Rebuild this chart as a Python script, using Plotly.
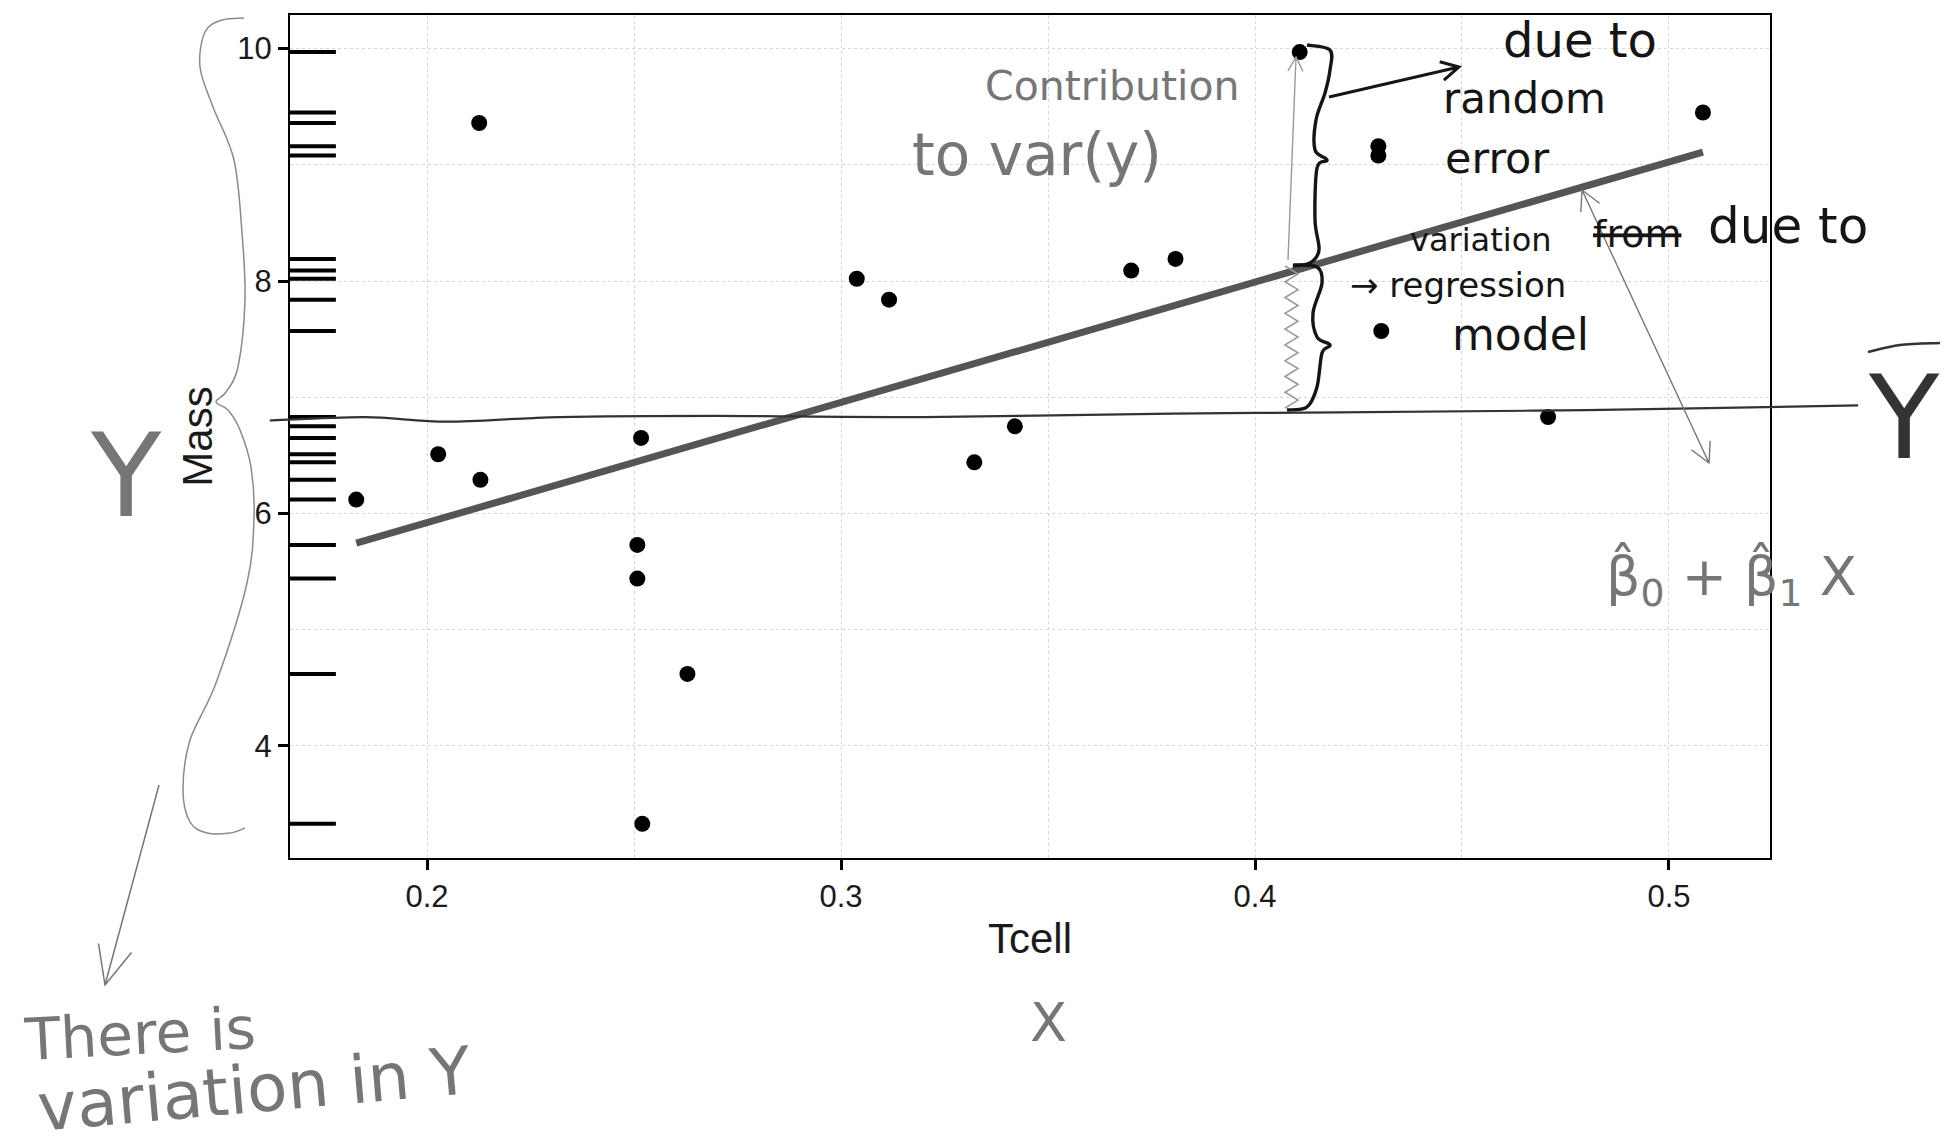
import math
import plotly.graph_objects as go

# ---------------- data ----------------
tcell = [0.1829, 0.2027, 0.2126, 0.2129, 0.2517, 0.2508, 0.2508, 0.2629, 0.2520,
         0.3038, 0.3116, 0.3322, 0.3420, 0.3701, 0.3808, 0.4108, 0.4298, 0.4298,
         0.4305, 0.4708, 0.5082]
mass = [6.12, 6.51, 9.36, 6.29, 6.65, 5.73, 5.44, 4.62, 3.33,
        8.02, 7.84, 6.44, 6.75, 8.09, 8.19, 9.97, 9.16, 9.08,
        7.57, 6.83, 9.45]

# fitted regression line (as drawn)
fit_tcell = [0.1829, 0.5082]
fit_mass = [5.745, 9.11]

# hand-drawn mean line (Y-bar)
ybar_tcell = [0.162, 0.185, 0.205, 0.232, 0.27, 0.32, 0.38, 0.42, 0.48, 0.5457]
ybar_mass = [6.80, 6.83, 6.79, 6.83, 6.84, 6.83, 6.86, 6.87, 6.89, 6.93]

x_ticks = [0.2, 0.3, 0.4, 0.5]
x_ticktext = ["0.2", "0.3", "0.4", "0.5"]
y_ticks = [4, 6, 8, 10]
y_ticktext = ["4", "6", "8", "10"]
x_minor = [0.25, 0.35, 0.45]
y_minor = [5, 7, 9]
x_range = [0.1669, 0.5244]
y_range = [3.036, 10.289]

# ---------------- geometry helpers ----------------
OFF = 8                       # page body margin
W, H = 1953 - OFF, 1147 - OFF
PL, PT, PW, PH = 290, 15, 1480, 843      # plot area on screen (px)
ML, MT = PL - OFF, PT - OFF
MR, MB = W - ML - PW, H - MT - PH

PEN = "#151515"
PENCIL = "#767676"
HAND_FONT = "DejaVu Sans"
AX_FONT = "Liberation Sans"
GRID = "#d6d6d6"


def px(xp, yp):
    """screen pixel -> paper coordinates"""
    return ((xp - PL) / PW, 1 - (yp - PT) / PH)


def d2p(x, y):
    return ((x - x_range[0]) / (x_range[1] - x_range[0]),
            (y - y_range[0]) / (y_range[1] - y_range[0]))


def smooth(pts):
    d = "M{:.5f},{:.5f}".format(*pts[0])
    for i in range(len(pts) - 1):
        p0 = pts[i - 1] if i > 0 else pts[i]
        p1, p2 = pts[i], pts[i + 1]
        p3 = pts[i + 2] if i + 2 < len(pts) else pts[i + 1]
        c1 = (p1[0] + (p2[0] - p0[0]) / 6, p1[1] + (p2[1] - p0[1]) / 6)
        c2 = (p2[0] - (p3[0] - p1[0]) / 6, p2[1] - (p3[1] - p1[1]) / 6)
        d += " C{:.5f},{:.5f} {:.5f},{:.5f} {:.5f},{:.5f}".format(*c1, *c2, *p2)
    return d


def poly(pts):
    return "M" + " L".join("{:.5f},{:.5f}".format(*p) for p in pts)


fig = go.Figure()

# regression line
fig.add_trace(go.Scatter(x=fit_tcell, y=fit_mass, mode="lines",
                         line=dict(color="#555555", width=7), hoverinfo="skip",
                         showlegend=False))
# points
fig.add_trace(go.Scatter(x=tcell, y=mass, mode="markers",
                         marker=dict(color="black", size=16, line=dict(width=0)),
                         showlegend=False))

shapes = []
# rug on the y axis
for m in mass:
    shapes.append(dict(type="line", xref="x domain", yref="y", x0=0, x1=0.031,
                       y0=m, y1=m, line=dict(color="black", width=4)))

# hand-drawn mean line
shapes.append(dict(type="path", xref="paper", yref="paper",
                   path=smooth([d2p(x, y) for x, y in zip(ybar_tcell, ybar_mass)]),
                   line=dict(color="#333333", width=2.2)))

# big brace on the left
left_brace = [(244, 18), (222, 20), (205, 32), (200, 67), (213, 107), (234, 160),
              (242, 233), (245, 300), (238, 367), (226, 392), (216, 402), (228, 410),
              (240, 430), (251, 467), (254, 517), (247, 583), (216, 683), (190, 740),
              (183, 790), (190, 822), (207, 833), (230, 833), (245, 828)]
shapes.append(dict(type="path", xref="paper", yref="paper",
                   path=smooth([px(*p) for p in left_brace]),
                   line=dict(color="#8a8a8a", width=1.5)))

# upper brace (random error)
upper_brace = [(1307, 45), (1330, 50), (1330, 70), (1325, 93), (1316, 120), (1315, 150),
               (1327, 160), (1317, 168), (1315, 220), (1319, 250), (1310, 263), (1293, 266)]
shapes.append(dict(type="path", xref="paper", yref="paper",
                   path=smooth([px(*p) for p in upper_brace]),
                   line=dict(color=PEN, width=3.4)))
# lower brace (regression model)
lower_brace = [(1293, 265), (1317, 267), (1322, 283), (1313, 313), (1317, 337),
               (1330, 345), (1322, 353), (1317, 387), (1307, 407), (1287, 410)]
shapes.append(dict(type="path", xref="paper", yref="paper",
                   path=smooth([px(*p) for p in lower_brace]),
                   line=dict(color=PEN, width=3.4)))

# zigzag gray segment from the mean line up to the fitted line
zz = []
n = 18
for i in range(n + 1):
    yy = 408 - (408 - 266) * i / n
    xx = 1285 if i % 2 == 0 else 1298
    zz.append(px(xx, yy))
shapes.append(dict(type="path", xref="paper", yref="paper", path=poly(zz),
                   line=dict(color="#9a9a9a", width=1.6)))

# bar over the Y on the right
shapes.append(dict(type="path", xref="paper", yref="paper",
                   path=smooth([px(1868, 352), px(1900, 345), px(1940, 343)]),
                   line=dict(color="#333333", width=2.5)))


def arrow(head, tail, color, width, length=18, ang=28, both=False):
    """hand-drawn style open arrow, drawn as a path in screen pixels"""
    def head_pts(h, t):
        dx, dy = t[0] - h[0], t[1] - h[1]
        d = math.hypot(dx, dy)
        ux, uy = dx / d, dy / d
        out = []
        for s in (1, -1):
            a = math.radians(ang) * s
            rx = ux * math.cos(a) - uy * math.sin(a)
            ry = ux * math.sin(a) + uy * math.cos(a)
            out.append((h[0] + rx * length, h[1] + ry * length))
        return out
    a1, a2 = head_pts(head, tail)
    path = poly([px(*tail), px(*head)]) + " " + poly([px(*a1), px(*head), px(*a2)])
    if both:
        b1, b2 = head_pts(tail, head)
        path += " " + poly([px(*b1), px(*tail), px(*b2)])
    shapes.append(dict(type="path", xref="paper", yref="paper", path=path,
                       line=dict(color=color, width=width)))


arrow((1296, 57), (1288, 260), "#9a9a9a", 1.4, length=16)
arrow((1459, 67), (1329, 97), PEN, 3.0, length=20)
arrow((1582, 190), (1709, 463), PENCIL, 1.4, length=22, both=True)
arrow((105, 985), (159, 785), PENCIL, 1.5, length=42, ang=24)

fig.update_layout(shapes=shapes)

annotations = []


def txt(s, xp, yp, size, color, angle=0):
    x, y = px(xp, yp)
    annotations.append(dict(text=s, x=x, y=y, xref="paper", yref="paper",
                            showarrow=False, xanchor="center", yanchor="middle",
                            textangle=angle,
                            font=dict(family=HAND_FONT, size=size, color=color)))


# pencil notes
txt("Contribution", 1112, 86, 41, PENCIL)
txt("to var(y)", 1037, 155, 58, PENCIL)
txt("Y", 126, 476, 115, PENCIL)
txt("X", 1048, 1022, 54, PENCIL)
txt("There is", 140, 1034, 58, PENCIL, -3)
txt("variation in Y", 254, 1089, 66, PENCIL, -5)
txt("β̂<sub>0</sub> + β̂<sub>1</sub> X", 1731, 578, 54, PENCIL)

# pen notes
txt("due to", 1580, 40, 48, PEN)
txt("random", 1524, 98, 42, PEN)
txt("error", 1497, 158, 43, PEN)
txt("variation", 1481, 240, 32, PEN)
txt("<s>from</s>", 1637, 234, 38, PEN)
txt("due to", 1788, 226, 50, PEN)
txt("→ regression", 1458, 285, 34, PEN)
txt("model", 1520, 334, 44, PEN)
txt("Y", 1904, 418, 115, "#333333")

fig.update_layout(annotations=annotations)

axis_common = dict(
    ticks="outside", ticklen=10, tickwidth=3, tickcolor="black",
    showline=True, mirror=True, linecolor="black", linewidth=2,
    showgrid=True, gridcolor=GRID, griddash="dot", gridwidth=1,
    zeroline=False, automargin=False,
    tickfont=dict(family=AX_FONT, size=31, color="#1a1a1a"),
)
minor_common = dict(showgrid=True, gridcolor=GRID, griddash="dot",
                    gridwidth=1, ticks="")

fig.update_xaxes(range=x_range, tickmode="array", tickvals=x_ticks, ticktext=x_ticktext,
                 minor=dict(tickvals=x_minor, **minor_common),
                 title=dict(text="Tcell", standoff=10,
                            font=dict(family=AX_FONT, size=42, color="#1a1a1a")),
                 **axis_common)
fig.update_yaxes(range=y_range, tickmode="array", tickvals=y_ticks, ticktext=y_ticktext,
                 minor=dict(tickvals=y_minor, **minor_common),
                 title=dict(text="Mass", standoff=12,
                            font=dict(family=AX_FONT, size=42, color="#1a1a1a")),
                 **axis_common)

fig.update_layout(
    width=W, height=H, autosize=False,
    margin=dict(l=ML, r=MR, t=MT, b=MB, pad=0),
    paper_bgcolor="white", plot_bgcolor="white",
    showlegend=False,
)

fig.write_html("out.html")
